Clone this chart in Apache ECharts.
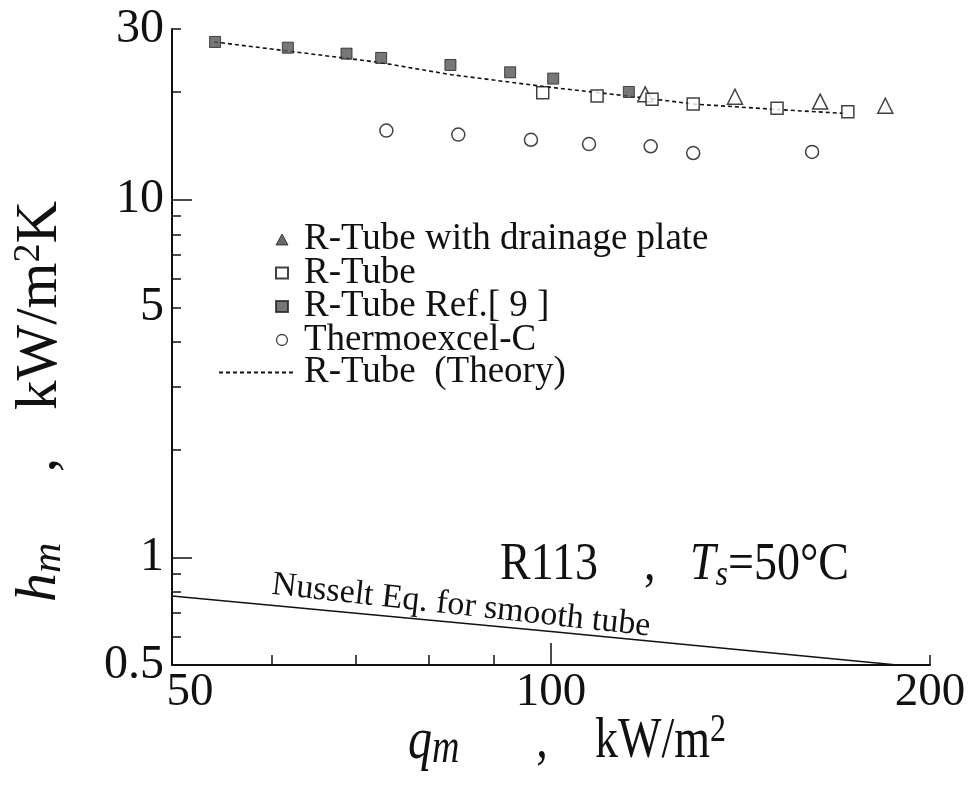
<!DOCTYPE html>
<html><head><meta charset="utf-8">
<script src="https://cdn.jsdelivr.net/npm/echarts@6/dist/echarts.min.js"></script>
<style>html,body{margin:0;padding:0;background:#fff}#c{width:969px;height:794px}</style>
</head><body><div id="c"></div>
<script>
// ---- data ----
const xTickLabels = [50, 100, 200];
const xMinorTicks = [60, 70, 80, 90, 200];
const xMajorTicks = [100];
const yTickLabels = [0.5, 1, 5, 10, 30];
const yMajorTicks = [1, 10];
const yMinorTicks = [0.6, 0.7, 0.8, 0.9, 2, 3, 4, 5, 6, 7, 8, 9, 20, 30];

const drainageQ = [118.8, 140.0, 163.6, 184.3];
const drainageH = [19.7, 19.4, 18.8, 18.3];
const rtubeQ = [98.5, 108.8, 120.3, 129.7, 151.2, 172.1];
const rtubeH = [19.9, 19.5, 19.1, 18.5, 18.0, 17.6];
const ref9Q = [54.1, 61.8, 68.8, 73.3, 83.2, 92.8, 100.4, 115.3];
const ref9H = [27.6, 26.6, 25.6, 24.9, 23.8, 22.7, 21.8, 20.0];
const thermoQ = [74.0, 84.4, 96.4, 107.2, 120.0, 129.7, 161.2];
const thermoH = [15.6, 15.2, 14.7, 14.3, 14.1, 13.5, 13.6];
const theoryQ = [54, 62, 73, 83, 100, 115, 130, 150, 172];
const theoryH = [27.6, 26.0, 24.2, 22.4, 20.6, 19.5, 18.5, 17.9, 17.4];
const nusseltQ = [50, 100, 150, 200];
const nusseltH = [0.78, 0.62, 0.54, 0.49];

const names = {
  drainage: 'R-Tube with drainage plate',
  rtube: 'R-Tube',
  ref9: 'R-Tube Ref.[ 9 ]',
  thermo: 'Thermoexcel-C',
  theory: 'R-Tube  (Theory)',
  nusselt: 'Nusselt Eq. for smooth tube'
};

// ---- chart ----
const F = 'Liberation Serif';
const INK = '#111';
const pair = (xs, ys) => xs.map((x, i) => [x, ys[i]]);
const chart = echarts.init(document.getElementById('c'), null, {renderer: 'canvas'});

const baseX = {type: 'log', logBase: 10, min: 50, max: 200, position: 'bottom', splitLine: {show: false}, minorTick: {show: false}};
const baseY = {type: 'log', logBase: 10, min: 0.5, max: 30, position: 'left', splitLine: {show: false}, minorTick: {show: false}};

const option = {
  animation: false,
  backgroundColor: '#fff',
  grid: {left: 172, top: 29, right: 39, bottom: 129},
  xAxis: [
    Object.assign({}, baseX, {
      axisLine: {show: true, lineStyle: {color: INK, width: 2}},
      axisTick: {show: true, inside: true, length: 10, customValues: xMinorTicks, lineStyle: {color: INK, width: 1.5}},
      axisLabel: {
        show: true, customValues: xTickLabels, fontFamily: F, fontSize: 47, color: INK, margin: 4,
        formatter: v => (v === 50 ? '{a|50}' : String(v)),
        rich: {a: {fontFamily: F, fontSize: 47, color: INK, padding: [0, 0, 0, 36]}}
      }
    }),
    Object.assign({}, baseX, {
      axisLine: {show: false},
      axisTick: {show: true, inside: true, length: 22, customValues: xMajorTicks, lineStyle: {color: INK, width: 1.5}},
      axisLabel: {show: false}
    })
  ],
  yAxis: [
    Object.assign({}, baseY, {
      axisLine: {show: true, lineStyle: {color: INK, width: 2}},
      axisTick: {show: true, inside: true, length: 9, customValues: yMinorTicks, lineStyle: {color: INK, width: 1.5}},
      axisLabel: {show: true, customValues: yTickLabels, fontFamily: F, fontSize: 48, color: INK, margin: 8,
        formatter: v => String(v)}
    }),
    Object.assign({}, baseY, {
      axisLine: {show: false},
      axisTick: {show: true, inside: true, length: 20, customValues: yMajorTicks, lineStyle: {color: INK, width: 1.5}},
      axisLabel: {show: false}
    })
  ],
  legend: [
    {
      orient: 'vertical', left: 275, top: 221, padding: 0, itemWidth: 12, itemHeight: 11, itemGap: -3.5,
      selectedMode: false,
      textStyle: {fontFamily: F, fontSize: 37, color: INK, padding: [0, 0, 0, 11]},
      data: [
        {name: names.drainage, itemStyle: {color: '#444', borderColor: '#222', borderWidth: 1}},
        {name: names.rtube},
        {name: names.ref9},
        {name: names.thermo, itemStyle: {color: '#fff', borderColor: INK, borderWidth: 1.3}}
      ]
    },
    {
      orient: 'vertical', left: 218, top: 354, padding: 0, itemWidth: 77, itemHeight: 10,
      selectedMode: false,
      textStyle: {fontFamily: F, fontSize: 37, color: INK, padding: [0, 0, 0, 3]},
      data: [{name: names.theory, itemStyle: {color: 'rgba(0,0,0,0)', borderColor: 'rgba(0,0,0,0)', borderWidth: 0}}]
    }
  ],
  series: [
    {name: names.nusselt, type: 'line', data: pair(nusseltQ, nusseltH),
      symbol: 'none', itemStyle: {color: INK}, lineStyle: {color: INK, width: 1.5}, z: 1},
    {name: names.theory, type: 'line', data: pair(theoryQ, theoryH),
      symbol: 'none', itemStyle: {color: INK}, lineStyle: {color: INK, width: 1.6, type: [4, 3]}, z: 1},
    {name: names.drainage, type: 'scatter', data: pair(drainageQ, drainageH), symbol: 'triangle', symbolSize: 15,
      itemStyle: {color: '#fff', borderColor: INK, borderWidth: 1.5}, z: 3},
    {name: names.rtube, type: 'scatter', data: pair(rtubeQ, rtubeH), symbol: 'rect', symbolSize: 12,
      itemStyle: {color: '#fff', borderColor: INK, borderWidth: 1.5}, z: 3},
    {name: names.ref9, type: 'scatter', data: pair(ref9Q, ref9H), symbol: 'rect', symbolSize: 11,
      itemStyle: {color: '#555', borderColor: '#222', borderWidth: 1}, z: 3},
    {name: names.thermo, type: 'scatter', data: pair(thermoQ, thermoH), symbol: 'circle', symbolSize: 13,
      itemStyle: {color: '#fff', borderColor: INK, borderWidth: 1.5}, z: 3}
  ],
  graphic: [
    // x-axis title
    {type: 'text', x: 408, y: 742, scaleY: 1.25, style: {
      text: '{i|q}{s|m}', align: 'left', verticalAlign: 'middle',
      rich: {i: {fontFamily: F, fontStyle: 'italic', fontSize: 48, fill: INK, lineHeight: 50},
             s: {fontFamily: F, fontStyle: 'italic', fontSize: 38, fill: INK, lineHeight: 24, verticalAlign: 'bottom'}}}},
    {type: 'text', x: 542, y: 742, scaleY: 1.25, style: {text: ',', fontFamily: F, fontSize: 46, fill: INK, align: 'center', verticalAlign: 'middle'}},
    {type: 'text', x: 595, y: 742, scaleY: 1.25, style: {
      text: '{n|kW/m}{p|2}', align: 'left', verticalAlign: 'middle',
      rich: {n: {fontFamily: F, fontSize: 46, fill: INK, lineHeight: 50},
             p: {fontFamily: F, fontSize: 32, fill: INK, lineHeight: 24, verticalAlign: 'top'}}}},
    // y-axis title (rotated)
    {type: 'text', x: 40, y: 602, rotation: Math.PI / 2, style: {
      text: '{i|h}{s|m}', align: 'left', verticalAlign: 'middle',
      rich: {i: {fontFamily: F, fontStyle: 'italic', fontSize: 58, fill: INK, lineHeight: 60},
             s: {fontFamily: F, fontStyle: 'italic', fontSize: 42, fill: INK, lineHeight: 28, verticalAlign: 'bottom'}}}},
    {type: 'text', x: 40, y: 465, rotation: Math.PI / 2, style: {text: ',', fontFamily: F, fontSize: 58, fill: INK, align: 'center', verticalAlign: 'middle'}},
    {type: 'text', x: 40, y: 410, rotation: Math.PI / 2, style: {
      text: '{n|kW/m}{p|2}{n|K}', align: 'left', verticalAlign: 'middle',
      rich: {n: {fontFamily: F, fontSize: 59, fill: INK, lineHeight: 60},
             p: {fontFamily: F, fontSize: 38, fill: INK, lineHeight: 28, verticalAlign: 'top'}}}},
    // condition annotation
    {type: 'text', x: 500, y: 565, scaleY: 1.15, style: {
      text: '{n|R113    ,   }{i|T}{s|s}{n|=50°C}', align: 'left', verticalAlign: 'middle',
      rich: {n: {fontFamily: F, fontSize: 46, fill: INK, lineHeight: 50},
             i: {fontFamily: F, fontStyle: 'italic', fontSize: 46, fill: INK, lineHeight: 50},
             s: {fontFamily: F, fontStyle: 'italic', fontSize: 32, fill: INK, lineHeight: 24, verticalAlign: 'bottom'}}}},
    // Nusselt label
    {type: 'text', x: 272, y: 585, rotation: -0.11, style: {
      text: names.nusselt, fontFamily: F, fontSize: 34, fill: INK, align: 'left', verticalAlign: 'middle'}}
  ]
};
chart.setOption(option);
</script>
</body></html>
